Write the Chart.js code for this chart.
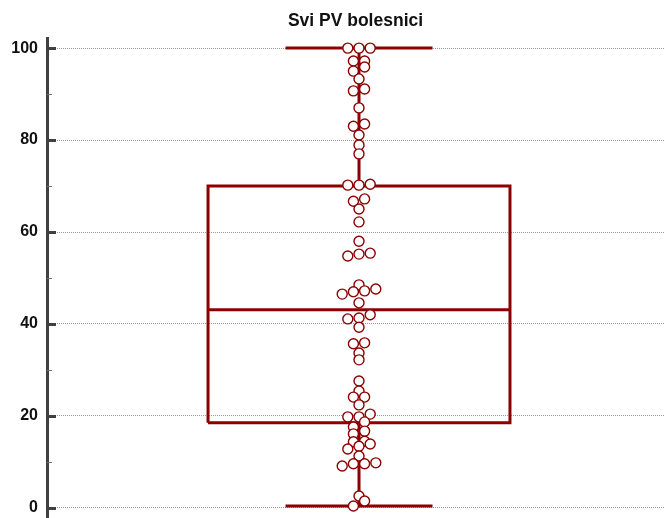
<!DOCTYPE html>
<html>
<head>
<meta charset="utf-8">
<script src="https://cdn.jsdelivr.net/npm/chart.js@4/dist/chart.umd.min.js"></script>
<style>
html,body{margin:0;padding:0;background:#ffffff;}
#wrap{width:664px;height:518px;}
</style>
</head>
<body>
<div id="wrap"><canvas id="c" width="664" height="518"></canvas></div>
<script>
// ---------- data ----------
const chartTitle = 'Svi PV bolesnici';
const values = [
  100, 100, 100, 97.2, 97.2, 95.9, 95.0, 93.3, 91.1, 90.7, 87.0,
  83.5, 83.0, 81.1, 78.9, 77.0, 70.4, 70.2, 70.2, 67.2, 66.7, 65.0,
  62.2, 58.0, 55.4, 55.2, 54.8, 48.5, 47.6, 47.2, 47.0, 46.5, 44.6,
  42.0, 41.3, 41.1, 39.3, 35.9, 35.7, 33.7, 32.2, 27.6, 25.4, 24.1,
  24.1, 22.4, 20.4, 19.8, 19.8, 18.7, 17.6, 16.7, 16.1, 14.5, 14.4,
  13.9, 13.4, 12.8, 11.3, 9.8, 9.6, 9.6, 9.1, 2.6, 1.5, 0.4
];
const quartiles = [18.5, 43.1, 70.0];   // Q1, median, Q3
const whiskers = [0.4, 100];            // low, high
const yTicks = [0, 20, 40, 60, 80, 100];
const yMinorTicks = [10, 30, 50, 70, 90];

// ---------- style / layout constants ----------
const RED = '#8b0000';
const AXIS = '#404040';
const BOX_HALF = 0.495;     // box half width (x units)
const CAP_HALF = 0.241;     // whisker cap half width (x units)
const ROW_GAP_PX = 5.5;     // dots closer than this (vertically) share a row
const DOT_SPACING_PX = 11.2;

const seg = (pts) => pts.map(p => ({x: p[0], y: p[1]}));
const lineDs = (data) => ({
  data, showLine: true, fill: false, pointRadius: 0, pointHoverRadius: 0,
  borderColor: RED, borderWidth: 3, tension: 0,
  borderJoinStyle: 'miter', borderCapStyle: 'butt'
});

const [q1, med, q3] = quartiles;
const [wLo, wHi] = whiskers;

const inwardTicks = {
  id: 'inwardTicks',
  afterDraw(chart) {
    const y = chart.scales.y, ctx = chart.ctx, left = chart.chartArea.left;
    ctx.save();
    ctx.strokeStyle = AXIS;
    ctx.lineWidth = 3;
    yTicks.forEach(v => {
      const p = Math.round(y.getPixelForValue(v)) + 0.5;
      ctx.beginPath(); ctx.moveTo(left, p); ctx.lineTo(left + 9, p); ctx.stroke();
    });
    ctx.strokeStyle = '#707070';
    ctx.lineWidth = 1;
    yMinorTicks.forEach(v => {
      const p = Math.round(y.getPixelForValue(v)) + 0.5;
      ctx.beginPath(); ctx.moveTo(left, p); ctx.lineTo(left + 5, p); ctx.stroke();
    });
    ctx.restore();
  }
};

const chart = new Chart(document.getElementById('c'), {
  type: 'scatter',
  data: {
    datasets: [
      {
        data: values.map(v => ({x: 0, y: v})),
        pointRadius: 5, pointHoverRadius: 5,
        pointBackgroundColor: '#ffffff', pointBorderColor: RED, pointBorderWidth: 1.4,
        showLine: false
      },
      lineDs(seg([[-BOX_HALF, med], [BOX_HALF, med]])),
      lineDs(seg([[-BOX_HALF, q1], [BOX_HALF, q1], [BOX_HALF, q3], [-BOX_HALF, q3], [-BOX_HALF, q1]])),
      lineDs(seg([[0, q3], [0, wHi]])),
      lineDs(seg([[0, q1], [0, wLo]])),
      lineDs(seg([[-CAP_HALF, wHi], [CAP_HALF, wHi]])),
      lineDs(seg([[-CAP_HALF, wLo], [CAP_HALF, wLo]]))
    ]
  },
  options: {
    responsive: false,
    animation: false,
    layout: {padding: 0, autoPadding: false},
    plugins: {
      legend: {display: false},
      tooltip: {enabled: false},
      title: {
        display: true, text: chartTitle, color: '#111', fullSize: false,
        font: {family: 'Liberation Sans, Arial, sans-serif', size: 17.5, weight: 'bold'},
        padding: {top: 11, bottom: 6}
      }
    },
    scales: {
      x: {type: 'linear', display: false, min: -1.023, max: 1},
      y: {
        type: 'linear', min: -2.2, max: 102.2,
        afterBuildTicks: s => { s.ticks = yTicks.map(v => ({value: v})); },
        afterFit: s => { s.width = 47; s.paddingTop = 0; s.paddingBottom = 0; },
        ticks: {
          autoSkip: false, padding: 9, color: '#111',
          font: {family: 'Liberation Sans, Arial, sans-serif', size: 16, weight: 'bold'}
        },
        grid: {drawTicks: false, color: '#9a9a9a', lineWidth: 1},
        border: {display: true, color: AXIS, width: 3, dash: [1, 1]}
      }
    }
  },
  plugins: [inwardTicks]
});

// dot layout: scanning upward, a dot joins the current row while it lies within
// ROW_GAP_PX of the row's first dot; each row is centred, ascending left to right
(function layoutDots() {
  const xs = chart.scales.x, ys = chart.scales.y;
  const unitPerPxX = (xs.max - xs.min) / xs.width;
  const unitPerPxY = (ys.max - ys.min) / ys.height;
  const step = DOT_SPACING_PX * unitPerPxX;
  const gap = ROW_GAP_PX * unitPerPxY;
  const order = values.map((v, i) => i).sort((a, b) => values[a] - values[b]);
  const rows = [];
  order.forEach(i => {
    const r = rows[rows.length - 1];
    if (r && values[i] - values[r[0]] < gap) r.push(i); else rows.push([i]);
  });
  const pts = values.map(v => ({x: 0, y: v}));
  rows.forEach(r => {
    const n = r.length;
    r.forEach((i, k) => { pts[i].x = (k - (n - 1) / 2) * step; });
  });
  chart.data.datasets[0].data = pts;
  chart.update('none');
})();
</script>
</body>
</html>
